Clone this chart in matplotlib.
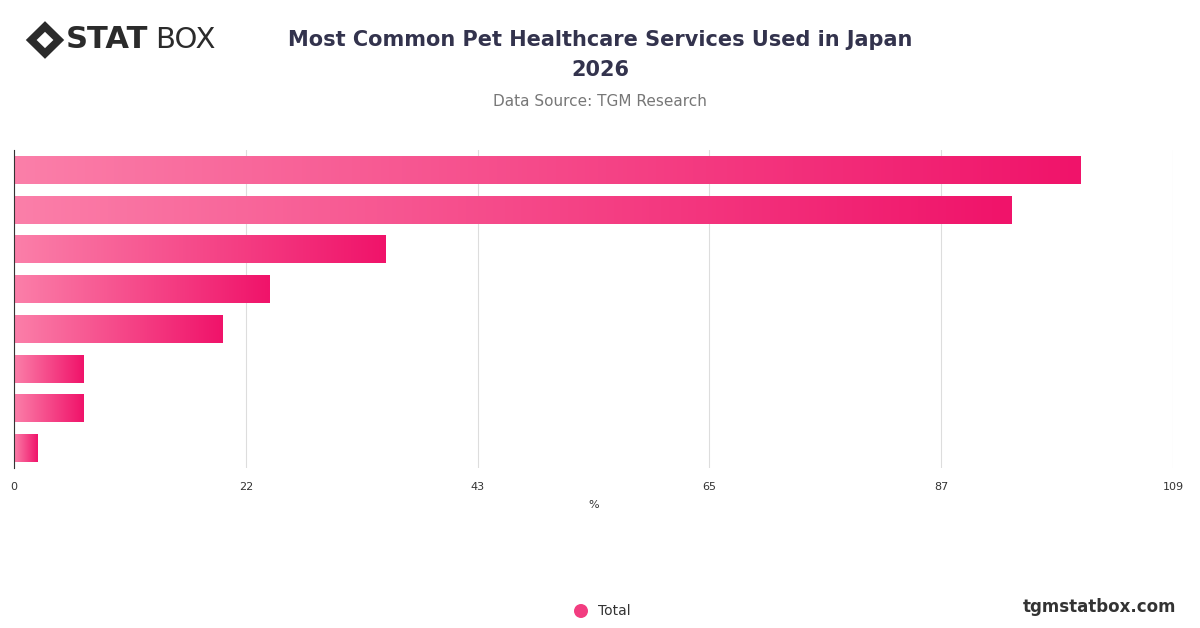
import matplotlib
matplotlib.use("Agg")
import matplotlib.pyplot as plt
import numpy as np
from matplotlib.colors import LinearSegmentedColormap
from matplotlib.patches import Polygon, Ellipse

values = [100.3, 93.8, 34.9, 24.0, 19.6, 6.5, 6.5, 2.2]
tick_vals = [0, 21.8, 43.6, 65.4, 87.2, 109]
tick_labels = ["0", "22", "43", "65", "87", "109"]

fig = plt.figure(figsize=(12, 6.28), dpi=100)
ax = fig.add_axes([14/1200, 1-468/628, (1173-14)/1200, (468-150)/628])
cmap = LinearSegmentedColormap.from_list("g", ["#fb7fa9", "#f0136a"])
grad = np.linspace(0, 1, 256).reshape(1, -1)
n = len(values)
for i, v in enumerate(values):
    h = 0.7
    ax.imshow(grad, cmap=cmap, aspect="auto", extent=[0, v, i + h/2, i - h/2], zorder=2)
ax.set_xlim(0, 109)
ax.set_ylim(n - 0.5, -0.5)
ax.set_xticks(tick_vals)
ax.set_xticklabels(tick_labels, fontsize=8, color="#333333")
ax.set_yticks([])
ax.grid(axis="x", color="#dddddd", lw=0.8, zorder=0)
for s in ["top", "right", "bottom"]:
    ax.spines[s].set_visible(False)
ax.spines["left"].set_color("#333333")
ax.tick_params(axis="x", length=0, pad=10)
ax.set_xlabel("%", fontsize=8, color="#333333", labelpad=6)

fig.text(0.5, 1-40/628, "Most Common Pet Healthcare Services Used in Japan", ha="center", va="center",
         fontsize=15, fontweight="bold", color="#33334d")
fig.text(0.5, 1-70/628, "2026", ha="center", va="center", fontsize=15, fontweight="bold", color="#33334d")
fig.text(0.5, 1-101/628, "Data Source: TGM Research", ha="center", va="center", fontsize=11, color="#777777")

# logo
lx, ly = 45/1200, 1-40/628
fig.patches.append(Polygon([[lx-0.016, ly], [lx, ly+0.03], [lx+0.016, ly], [lx, ly-0.03]],
                           closed=True, transform=fig.transFigure, facecolor="#2b2b2b"))
fig.patches.append(Polygon([[lx-0.007, ly], [lx, ly+0.013], [lx+0.007, ly], [lx, ly-0.013]],
                           closed=True, transform=fig.transFigure, facecolor="white"))
fig.text(66/1200, ly, "STAT", ha="left", va="center", fontsize=22, fontweight="bold", color="#2b2b2b")
fig.text(155/1200, ly, "BOX", ha="left", va="center", fontsize=21, color="#2b2b2b")

fig.patches.append(Ellipse((581/1200, 1-611/628), 14/1200, 14/628, transform=fig.transFigure,
                           facecolor="#f23d80"))
fig.text(598/1200, 1-611/628, "Total", ha="left", va="center", fontsize=10, color="#333333")
fig.text(1176/1200, 1-607/628, "tgmstatbox.com", ha="right", va="center", fontsize=12,
         fontweight="bold", color="#333333")
fig.savefig("out.png", dpi=100)
